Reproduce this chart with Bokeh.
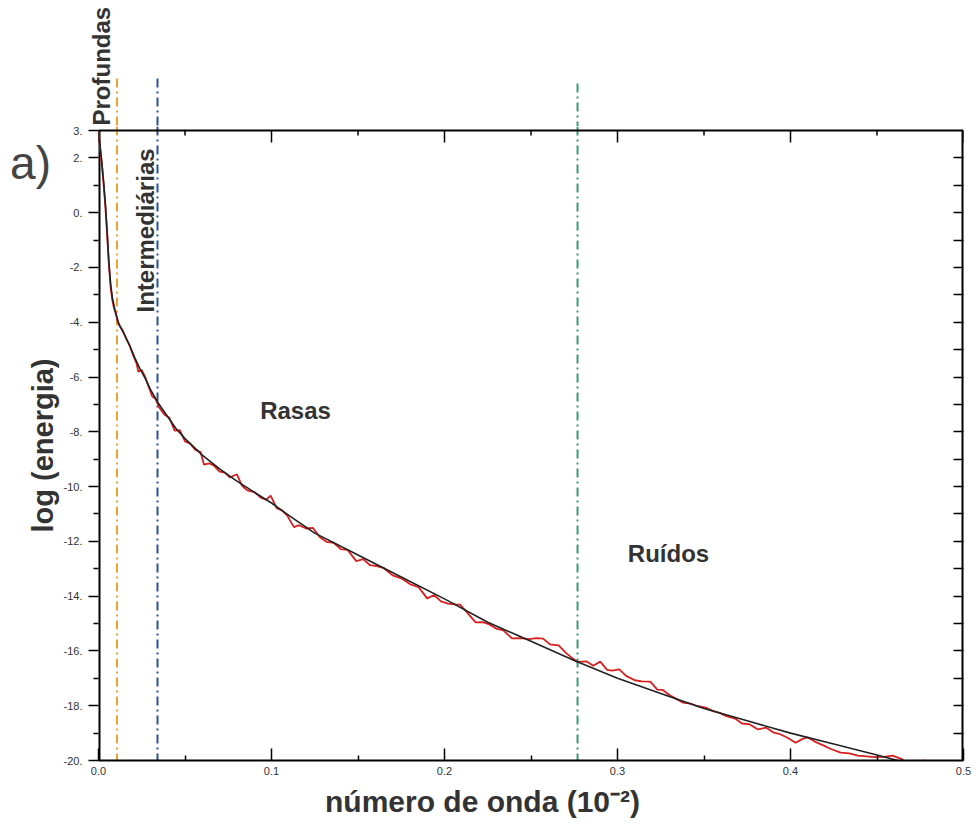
from math import pi
from bokeh.plotting import figure
from bokeh.layouts import column, row
from bokeh.models import Range1d, LinearAxis, FixedTicker, Label, Span
from bokeh.embed import file_html
from bokeh.resources import INLINE

# ---- data -------------------------------------------------------------
ajuste_x = [0.000, 0.001, 0.002, 0.003, 0.004, 0.005, 0.006, 0.007, 0.008, 0.010,
            0.012, 0.015, 0.018, 0.021, 0.024, 0.027, 0.030, 0.034, 0.040, 0.045,
            0.050, 0.060, 0.070, 0.080, 0.090, 0.100, 0.110, 0.125, 0.150, 0.175,
            0.200, 0.225, 0.250, 0.275, 0.300, 0.325, 0.350, 0.375, 0.400, 0.425,
            0.450, 0.480]
ajuste_y = [2.9, 2.4, 1.8, 1.1, 0.3, -0.7, -1.8, -2.6, -3.1, -3.7,
            -4.1, -4.45, -4.85, -5.3, -5.7, -6.05, -6.45, -6.9, -7.45, -7.9,
            -8.25, -8.85, -9.35, -9.8, -10.2, -10.6, -11.05, -11.7, -12.5, -13.3,
            -14.1, -14.95, -15.65, -16.35, -17.0, -17.55, -18.1, -18.55, -19.0, -19.4,
            -19.8, -20.3]

espectro_x = [0.000, 0.001, 0.002, 0.003, 0.004, 0.005, 0.006, 0.007, 0.008, 0.009,
              0.010, 0.011, 0.012, 0.014, 0.016, 0.018, 0.020, 0.022, 0.023, 0.025,
              0.027, 0.029, 0.031, 0.033, 0.035, 0.038, 0.041, 0.044, 0.047, 0.050,
              0.053, 0.056, 0.059, 0.061, 0.064, 0.067, 0.070, 0.073, 0.076, 0.080,
              0.083, 0.086, 0.090, 0.094, 0.097, 0.0995, 0.103, 0.106, 0.109, 0.113,
              0.116, 0.120, 0.124, 0.128, 0.132, 0.136, 0.140, 0.144, 0.149, 0.153,
              0.157, 0.161, 0.165, 0.170, 0.175, 0.180, 0.185, 0.190, 0.194, 0.198,
              0.202, 0.206, 0.209, 0.213, 0.218, 0.222, 0.226, 0.230, 0.234, 0.239,
              0.244, 0.249, 0.253, 0.257, 0.261, 0.266, 0.270, 0.274, 0.277, 0.282,
              0.286, 0.290, 0.294, 0.297, 0.301, 0.305, 0.310, 0.314, 0.319, 0.323,
              0.326, 0.330, 0.334, 0.338, 0.342, 0.346, 0.351, 0.355, 0.359, 0.363,
              0.368, 0.372, 0.376, 0.381, 0.386, 0.390, 0.394, 0.398, 0.403, 0.407,
              0.410, 0.415, 0.419, 0.423, 0.429, 0.434, 0.439, 0.444, 0.449, 0.454,
              0.459, 0.464, 0.468, 0.473, 0.478]
espectro_y = [2.95, 2.3, 1.7, 1.0, 0.2, -0.8, -1.9, -2.7, -3.2, -3.5,
              -3.65, -3.95, -4.1, -4.3, -4.6, -4.85, -5.2, -5.5, -5.8, -5.75,
              -6.0, -6.35, -6.7, -6.8, -7.1, -7.37, -7.49, -7.96, -7.94, -8.35,
              -8.43, -8.66, -8.74, -9.2, -9.15, -9.25, -9.45, -9.49, -9.67, -9.55,
              -9.97, -10.14, -10.2, -10.41, -10.48, -10.33, -10.79, -10.87, -11.05, -11.48,
              -11.41, -11.53, -11.51, -11.85, -12.02, -12.05, -12.28, -12.31, -12.72, -12.65,
              -12.87, -12.9, -12.98, -13.24, -13.35, -13.56, -13.67, -14.08, -13.96, -14.19,
              -14.27, -14.3, -14.31, -14.59, -14.96, -14.95, -15.03, -15.19, -15.25, -15.54,
              -15.53, -15.57, -15.53, -15.55, -15.76, -15.8, -16.06, -16.27, -16.4, -16.38,
              -16.54, -16.39, -16.69, -16.72, -16.67, -16.91, -17.07, -17.11, -17.12, -17.41,
              -17.42, -17.61, -17.75, -17.89, -17.92, -18.01, -18.07, -18.19, -18.26, -18.38,
              -18.47, -18.65, -18.67, -18.86, -18.8, -18.97, -19.04, -19.16, -19.35, -19.21,
              -19.16, -19.34, -19.45, -19.57, -19.71, -19.74, -19.82, -19.85, -19.88, -19.87,
              -19.82, -19.94, -20.1, -20.06, -20.0]

limites_x = [0.0107, 0.0341, 0.2769]
limites_topo = [4.9, 4.9, 4.72]
limites_cor = ["#f0a030", "#2b4f9e", "#3a9a72"]

x_ticks = [0.0, 0.1, 0.2, 0.3, 0.4, 0.5]
x_minor = [0.05, 0.15, 0.25, 0.35, 0.45]
x_tick_labels = ["0.0", "0.1", "0.2", "0.3", "0.4", "0.5"]
y_ticks = [3, 2, 0, -2, -4, -6, -8, -10, -12, -14, -16, -18, -20]
y_tick_labels = ["3.", "2.", "0.", "-2.", "-4.", "-6.", "-8.", "-10.", "-12.", "-14.",
                 "-16.", "-18.", "-20."]
y_minor = [1, -1, -3, -5, -7, -9, -11, -13, -15, -17, -19]
y_all = [2, 1, 0, -1, -2, -3, -4, -5, -6, -7, -8, -9, -10, -11, -12, -13, -14, -15,
         -16, -17, -18, -19]

regioes = ["Profundas", "Intermediárias", "Rasas", "Ruídos"]
titulo_x = "número de onda (10⁻²)"
titulo_y = "log (energia)"
painel = "a)"

# ---- layout constants (pixels) ---------------------------------------
FONT = "Liberation Sans"
TXT = "#333333"
X0, X1, Y0, Y1 = 0.0, 0.5, -20.0, 3.0
FW, FH = 865, 630            # frame size for the x / y data span
FL, FT = 98, 130             # frame left / top on the page
W, H = 974, 827              # whole page
HEAD = 126                   # strip above the main plot
LEFTW = 60                   # strip left of the main plot
BOT = 22                     # tick-label band below the frame
FOOT = H - FT - FH - BOT     # strip holding the x title
SX = (X1 - X0) / FW
SY = (Y1 - Y0) / FH


def dx(px):
    return X0 + (px - FL) * SX


def dy(py):
    return Y1 - (py - FT) * SY


def bare(fw, fh, xr, yr, bottom_border=0):
    f = figure(frame_width=fw, frame_height=fh, x_range=Range1d(*xr), y_range=Range1d(*yr),
               x_axis_location=None, y_axis_location=None,
               output_backend="svg", toolbar_location=None,
               min_border=0, min_border_left=0, min_border_right=0,
               min_border_top=0, min_border_bottom=bottom_border)
    f.outline_line_color = None
    f.grid.grid_line_color = None
    f.background_fill_color = "white"
    f.border_fill_color = "white"
    return f


# ---- main plot --------------------------------------------------------
MAIN_FH = FT - HEAD + FH
p = figure(frame_width=FW, frame_height=MAIN_FH,
           x_range=Range1d(X0, X1), y_range=Range1d(Y0, dy(HEAD)),
           x_axis_location=None, y_axis_location=None,
           output_backend="svg", toolbar_location=None,
           min_border_left=FL - LEFTW, min_border_top=0, min_border_right=W - FL - FW,
           min_border_bottom=BOT)
p.outline_line_color = None
p.grid.grid_line_color = None
p.background_fill_color = "white"
p.border_fill_color = "white"


def style(ax):
    ax.axis_line_width = 2
    ax.axis_line_color = "black"
    ax.major_tick_line_width = 1.5
    ax.minor_tick_line_width = 1.5
    ax.major_tick_line_color = "black"
    ax.minor_tick_line_color = "black"
    ax.major_label_text_font = FONT
    ax.major_label_text_font_size = "11px"
    ax.major_label_text_color = TXT


bottom = LinearAxis(ticker=FixedTicker(ticks=x_ticks, minor_ticks=x_minor))
style(bottom)
bottom.major_label_overrides = {t: l for t, l in zip(x_ticks, x_tick_labels)}
bottom.major_tick_in = 12
bottom.major_tick_out = 0
bottom.minor_tick_in = 5
bottom.minor_tick_out = 0
bottom.major_label_standoff = 6
p.add_layout(bottom, "below")

left = LinearAxis(ticker=FixedTicker(ticks=y_ticks, minor_ticks=y_minor))
style(left)
left.axis_line_color = None
left.major_label_overrides = {t: l for t, l in zip(y_ticks, y_tick_labels)}
left.major_tick_in = 0
left.major_tick_out = 10
left.minor_tick_in = 0
left.minor_tick_out = 5
left.major_label_standoff = 6
p.add_layout(left, "left")

right = LinearAxis(ticker=FixedTicker(ticks=[], minor_ticks=y_all))
style(right)
right.axis_line_color = None
right.minor_tick_in = 10
right.minor_tick_out = 0
right.major_label_standoff = 0
p.add_layout(right, "right")

# frame box (top edge at y = 3, sides stop there too)
p.segment(x0=[X0, X0, X1], y0=[Y1, Y0, Y0], x1=[X1, X0, X1], y1=[Y1, Y1, Y1],
          line_color="black", line_width=[2, 4, 4])
# inward ticks of the top edge
p.segment(x0=x_ticks, y0=[Y1] * len(x_ticks), x1=x_ticks,
          y1=[Y1 - 12 * SY] * len(x_ticks), line_color="black", line_width=1.5)
p.segment(x0=x_minor, y0=[Y1] * len(x_minor), x1=x_minor,
          y1=[Y1 - 5 * SY] * len(x_minor), line_color="black", line_width=1.5)

for xv, c in zip(limites_x, limites_cor):
    p.add_layout(Span(location=xv, dimension="height", line_color=c, line_width=2,
                      line_dash="9 4 2 4", level="underlay"))

p.line(espectro_x, espectro_y, line_color="#d81e1e", line_width=1.8)
p.line(ajuste_x, ajuste_y, line_color="#222222", line_width=1.6)

lab_kw = dict(text_font=FONT, text_font_style="bold", text_color=TXT, text_font_size="24px")
p.add_layout(Label(x=dx(145), y=dy(312), text=regioes[1], angle=pi / 2,
                   text_align="left", text_baseline="middle", **lab_kw))
p.add_layout(Label(x=dx(295), y=dy(410), text=regioes[2],
                   text_align="center", text_baseline="middle", **lab_kw))
p.add_layout(Label(x=dx(668), y=dy(553), text=regioes[3],
                   text_align="center", text_baseline="middle", **lab_kw))

# ---- strip above the plot --------------------------------------------
head = bare(W, HEAD, (dx(0), dx(W)), (dy(HEAD), dy(0)))
head.segment(x0=limites_x, y0=limites_topo, x1=limites_x, y1=[dy(HEAD)] * 3,
             line_color=limites_cor, line_width=2, line_dash="9 4 2 4")
head.add_layout(Label(x=dx(100.5), y=dy(125), text=regioes[0], angle=pi / 2,
                      text_align="left", text_baseline="middle", **lab_kw))

# ---- strip left of the plot (same frame height as the main plot) ------
side = bare(LEFTW, MAIN_FH, (dx(0), dx(LEFTW)), (dy(FT + FH), dy(HEAD)), bottom_border=BOT)
side.add_layout(Label(x=dx(30), y=dy(162), text=painel, text_font=FONT,
                      text_color="#444444", text_font_size="46px",
                      text_align="center", text_baseline="middle"))
side.add_layout(Label(x=dx(42), y=dy(445), text=titulo_y, angle=pi / 2,
                      text_font=FONT, text_font_style="bold", text_color=TXT,
                      text_font_size="29px", text_align="center", text_baseline="middle"))

# ---- strip below the plot (x title) -----------------------------------
foot = bare(W, FOOT, (dx(0), dx(W)), (dy(H), dy(H - FOOT)))
foot.add_layout(Label(x=dx(482), y=dy(801), text=titulo_x, text_font=FONT,
                      text_font_style="bold", text_color=TXT, text_font_size="30px",
                      text_align="center", text_baseline="middle"))

layout = column(head, row(side, p, spacing=0), foot, spacing=0)
open("out.html", "w").write(file_html(layout, INLINE))
